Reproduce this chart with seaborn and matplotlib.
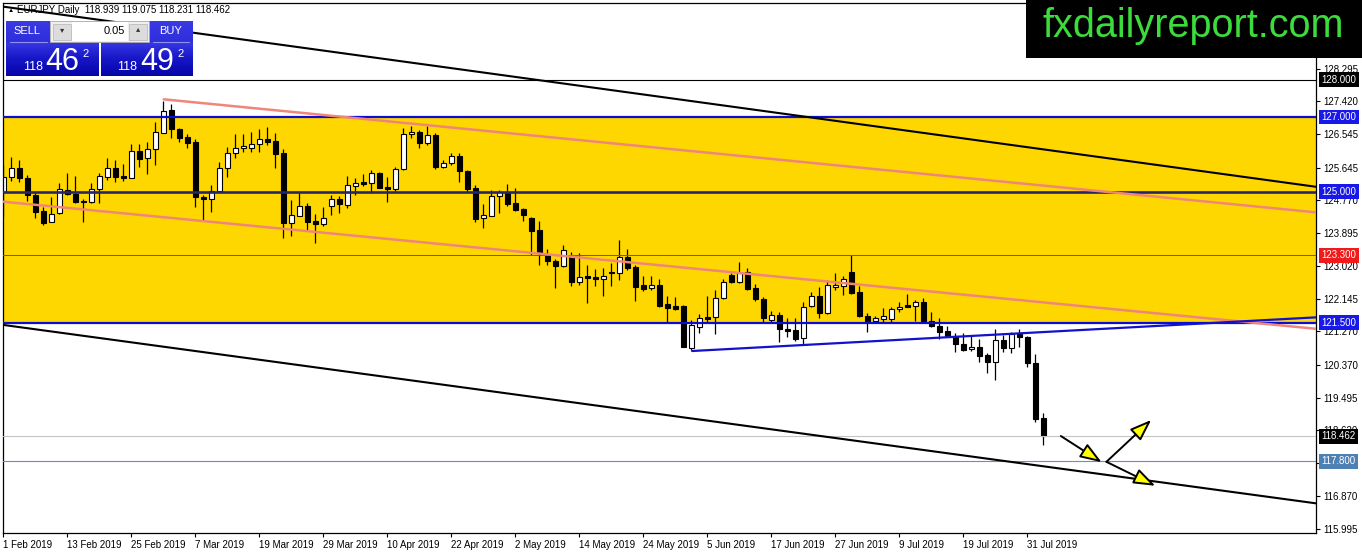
import numpy as np
import pandas as pd
import seaborn as sns
import matplotlib.pyplot as plt
import matplotlib.transforms as mtransforms
from matplotlib.patches import Rectangle
from matplotlib.colors import LinearSegmentedColormap

# EURJPY daily candles, 1 Feb 2019 - 2 Aug 2019 (weekdays)
opens = [124.99, 125.39, 125.64, 125.38, 124.91, 124.49, 124.20, 124.43, 125.06, 124.94,
         124.75, 124.74, 125.07, 125.40, 125.63, 125.42, 125.38, 126.09, 125.90, 126.14,
         126.58, 127.19, 126.67, 126.47, 126.32, 124.85, 124.80, 125.02, 125.63, 126.03,
         126.16, 126.16, 126.27, 126.40, 126.36, 126.05, 124.17, 124.36, 124.62, 124.22,
         124.14, 124.63, 124.81, 124.65, 125.16, 125.25, 125.24, 125.49, 125.14, 125.08,
         125.60, 126.54, 126.59, 126.30, 126.52, 125.67, 125.76, 125.96, 125.56, 125.09,
         124.29, 124.36, 124.90, 125.00, 124.69, 124.53, 124.31, 123.98, 123.31, 123.15,
         123.02, 123.26, 122.60, 122.75, 122.72, 122.67, 122.86, 122.82, 123.26, 122.98,
         122.51, 122.43, 122.50, 122.00, 121.95, 121.95, 120.82, 121.39, 121.66, 121.64,
         122.15, 122.78, 122.60, 122.85, 122.44, 122.13, 121.57, 121.71, 121.32, 121.30,
         121.08, 121.95, 122.22, 121.75, 122.46, 122.49, 122.85, 122.31, 121.68, 121.54,
         121.61, 121.61, 121.86, 121.96, 121.95, 122.05, 121.55, 121.41, 121.28, 121.14,
         120.93, 120.79, 120.84, 120.64, 120.44, 121.04, 120.82, 121.19, 121.11, 120.41,
         118.939]
highs = [125.72, 125.94, 125.85, 125.45, 125.00, 124.60, 124.87, 125.23, 125.49, 125.42,
         124.80, 125.23, 125.49, 125.90, 125.85, 125.74, 126.27, 126.27, 126.34, 126.87,
         127.43, 127.34, 126.71, 126.54, 126.40, 124.91, 125.18, 125.80, 126.21, 126.54,
         126.54, 126.61, 126.67, 126.74, 126.56, 126.14, 124.78, 124.98, 124.69, 124.41,
         124.59, 124.91, 124.89, 125.42, 125.36, 125.47, 125.58, 125.54, 125.40, 125.67,
         126.71, 126.76, 126.65, 126.76, 126.56, 125.85, 126.03, 126.03, 125.58, 125.18,
         124.67, 125.05, 125.05, 125.20, 125.09, 124.57, 124.32, 124.22, 123.46, 123.20,
         123.58, 123.40, 123.36, 123.04, 122.94, 122.95, 123.10, 123.71, 123.46, 123.04,
         122.76, 122.76, 122.66, 122.21, 122.19, 121.97, 121.57, 121.73, 122.21, 122.37,
         122.66, 122.82, 123.13, 122.95, 122.53, 122.19, 121.81, 121.79, 121.62, 121.62,
         122.06, 122.33, 122.45, 122.64, 122.84, 122.75, 123.30, 122.49, 121.75, 121.68,
         121.88, 121.93, 122.06, 122.27, 122.11, 122.17, 121.79, 121.63, 121.41, 121.22,
         121.22, 121.14, 121.06, 120.68, 121.32, 121.17, 121.26, 121.32, 121.14, 120.65,
         119.075]
lows = [124.33, 125.29, 125.25, 124.75, 124.31, 124.11, 124.18, 124.40, 124.92, 124.69,
        124.18, 124.69, 124.71, 125.32, 125.27, 125.30, 125.36, 125.67, 125.47, 125.72,
        126.56, 126.43, 126.32, 126.16, 124.60, 124.25, 124.45, 125.00, 125.40, 125.90,
        126.07, 126.06, 126.06, 126.24, 125.64, 123.77, 123.83, 124.34, 123.98, 123.62,
        124.09, 124.38, 124.44, 124.57, 124.91, 125.16, 124.96, 125.09, 124.74, 125.02,
        125.57, 126.45, 126.16, 126.25, 125.61, 125.64, 125.72, 125.27, 125.00, 124.18,
        124.04, 124.34, 124.43, 124.63, 124.49, 124.22, 123.31, 123.04, 123.04, 122.44,
        122.98, 122.48, 122.51, 122.03, 122.48, 122.21, 122.48, 122.64, 122.91, 122.09,
        122.35, 122.37, 121.93, 121.53, 121.84, 120.84, 120.77, 121.23, 121.53, 121.20,
        122.13, 122.57, 122.57, 122.37, 122.09, 121.53, 121.53, 120.99, 121.11, 121.02,
        120.92, 121.91, 121.62, 121.72, 122.37, 122.24, 122.28, 121.66, 121.26, 121.50,
        121.50, 121.48, 121.79, 121.91, 121.55, 121.50, 121.38, 121.06, 121.11, 120.72,
        120.75, 120.75, 120.44, 120.15, 119.97, 120.72, 120.68, 120.84, 120.32, 118.85,
        118.231]
closes = [125.40, 125.64, 125.36, 124.91, 124.47, 124.17, 124.41, 125.07, 124.93, 124.74,
          124.72, 125.07, 125.42, 125.63, 125.40, 125.36, 126.09, 125.88, 126.14, 126.59,
          127.16, 126.67, 126.45, 126.31, 124.85, 124.80, 125.03, 125.63, 126.03, 126.16,
          126.22, 126.27, 126.40, 126.34, 126.01, 124.16, 124.38, 124.62, 124.18, 124.15,
          124.29, 124.80, 124.67, 125.18, 125.23, 125.21, 125.49, 125.11, 125.08, 125.61,
          126.54, 126.59, 126.30, 126.52, 125.67, 125.76, 125.96, 125.56, 125.07, 124.27,
          124.38, 124.89, 124.99, 124.67, 124.51, 124.38, 123.96, 123.37, 123.15, 123.02,
          123.44, 122.60, 122.73, 122.70, 122.67, 122.75, 122.82, 123.25, 122.95, 122.45,
          122.39, 122.51, 121.95, 121.90, 121.87, 120.86, 121.44, 121.62, 121.61, 122.15,
          122.58, 122.60, 122.82, 122.40, 122.13, 121.62, 121.71, 121.32, 121.29, 121.06,
          121.93, 122.22, 121.75, 122.51, 122.51, 122.66, 122.30, 121.68, 121.53, 121.62,
          121.69, 121.86, 121.93, 121.93, 122.05, 121.55, 121.41, 121.26, 121.14, 120.92,
          120.77, 120.84, 120.62, 120.44, 121.04, 120.83, 121.19, 121.11, 120.41, 118.93,
          118.462]

date_labels = ['1 Feb 2019', '13 Feb 2019', '25 Feb 2019', '7 Mar 2019', '19 Mar 2019',
               '29 Mar 2019', '10 Apr 2019', '22 Apr 2019', '2 May 2019', '14 May 2019',
               '24 May 2019', '5 Jun 2019', '17 Jun 2019', '27 Jun 2019', '9 Jul 2019',
               '19 Jul 2019', '31 Jul 2019']
price_ticks = [128.295, 127.420, 126.545, 125.645, 124.770, 123.895, 123.020, 122.145,
               121.270, 120.370, 119.495, 118.620, 117.745, 116.870, 115.995]
# 117.745 sits fully under the 117.800 box on the original scale
hidden_ticks = [117.745]

# horizontal levels drawn on the chart
levels = [128.000, 127.000, 125.000, 123.300, 121.500, 118.462, 117.800]
level_line_colors = ['black', '#0C0CD2', '#262668', '#F02020', '#0C0CD2', '#C4C4C4', '#6A8FBF']
level_line_widths = [0.8, 1.6, 1.9, 0.6, 1.6, 0.8, 0.8]
level_box_colors = ['black', '#1818E8', '#1818E8', '#F01A1A', '#1818E8', 'black', '#4E80B4']
zone_low, zone_high = 121.5, 127.0

# trend lines: (start bar, start price, end bar, end price)
channel_upper = (0, 129.95, 164.1, 125.134)
channel_lower = (0, 121.44, 164.1, 116.67)
pink_upper = (20.04, 127.473, 164.1, 124.45)
pink_lower = (0, 124.735, 164.1, 121.337)
support_line = (86.1, 120.743, 164.1, 121.643)

# scenario arrows: (from bar, from price, to bar, to price)
arrows = [(132.2, 118.47, 137.3, 117.77),
          (137.9, 117.78, 143.5, 118.90),
          (137.9, 117.78, 144.0, 117.14)]

df = pd.DataFrame({'open': opens, 'high': highs, 'low': lows, 'close': closes})
df['bar'] = np.arange(len(df))
df['up'] = df['close'] >= df['open']

sns.set_theme(style='white')
plt.rcParams['font.family'] = ['Liberation Sans', 'DejaVu Sans']

fig = plt.figure(figsize=(13.62, 5.54), dpi=100)
ax = fig.add_axes([3 / 1362, 1 - 533 / 554, 1313 / 1362, 530.3 / 554])
ax.set_facecolor('white')

# yellow zone
ax.axhspan(zone_low, zone_high, color='#FFD700', zorder=0.5, lw=0)

# candles
ax.vlines(df['bar'], df['low'], df['high'], color='black', lw=0.9, zorder=2)
body_lo = df[['open', 'close']].min(axis=1)
body_h = (df['close'] - df['open']).abs().clip(lower=0.015)
ax.bar(df['bar'], body_h, bottom=body_lo, width=0.66,
       color=np.where(df['up'], 'white', 'black'), edgecolor='black', lw=0.8, zorder=2.2)

# horizontal levels
for lv, c, w in zip(levels, level_line_colors, level_line_widths):
    ax.axhline(lv, color=c, lw=w, zorder=3, antialiased=(lv != 123.3))

# trend lines
for seg, c, w in [(channel_upper, 'black', 1.5), (channel_lower, 'black', 1.5),
                  (pink_upper, '#F0857A', 1.8), (pink_lower, '#F0857A', 1.8),
                  (support_line, '#1212CC', 1.6)]:
    sns.lineplot(x=[seg[0], seg[2]], y=[seg[1], seg[3]], color=c, lw=w, ax=ax,
                 zorder=4, legend=False)

for a in arrows:
    ax.annotate('', xy=(a[2], a[3]), xytext=(a[0], a[1]),
                arrowprops=dict(arrowstyle='-|>,head_length=1.1,head_width=0.4',
                                lw=1.4, ec='black', fc='#FFFF00', shrinkA=0, shrinkB=0),
                zorder=5)

ax.set_xlim(-0.05, 164.1)
ax.set_ylim(115.877, 130.056)

# axes styling
for s in ax.spines.values():
    s.set_color('black')
    s.set_linewidth(0.9)
ax.yaxis.tick_right()
ax.set_yticks(price_ticks)
ax.set_yticklabels(['' if v in hidden_ticks else f'{v:.3f}' for v in price_ticks])
ax.set_xticks(np.arange(0, 8 * len(date_labels), 8))
ax.set_xticklabels(date_labels, ha='left')
ax.tick_params(axis='y', direction='out', length=3, width=0.8, pad=2,
               labelsize=7, colors='black', right=True, left=False)
ax.tick_params(axis='x', direction='out', length=3, width=0.8, pad=2,
               labelsize=7, colors='black', bottom=True)
ax.set_xlabel('')
ax.set_ylabel('')
ax.grid(False)

# price boxes on the right scale
trans = mtransforms.blended_transform_factory(ax.transAxes, ax.transData)
for lv, c in zip(levels, level_box_colors):
    ax.text(1.0043, lv, f'{lv:.3f}', transform=trans, ha='left', va='center',
            fontsize=7, color='white', zorder=6,
            bbox=dict(boxstyle='square,pad=0.25', fc=c, ec='none'))

# overlay in pixel coordinates for the header, trade panel and logo
ov = fig.add_axes([0, 0, 1, 1], zorder=10)
ov.patch.set_visible(False)
ov.axis('off')

ov.text(8, 10, '\u25b2', fontsize=4.5, va='center', ha='left', color='black')
ov.text(17, 10, 'EURJPY Daily  118.939 119.075 118.231 118.462', fontsize=7,
        va='center', ha='left', color='black')

blue = LinearSegmentedColormap.from_list('panel', ['#3A3AE4', '#1616C8', '#0606A6'])
grad = np.linspace(0, 1, 60).reshape(-1, 1)
for x0, x1 in [(6, 99), (101, 193)]:
    ov.imshow(grad, extent=(x0, x1, 76, 41.7), cmap=blue, aspect='auto', zorder=1)
for x0, x1 in [(6, 50), (149, 193)]:
    ov.imshow(grad[:20] * 0.5, extent=(x0, x1, 41.7, 20.7), cmap=blue, aspect='auto',
              zorder=1, vmin=0, vmax=1)
ov.plot([10, 47], [42, 42], color='#9090F0', lw=0.8, zorder=2)
ov.plot([153, 189], [42, 42], color='#9090F0', lw=0.8, zorder=2)
ov.add_patch(Rectangle((50, 20.7), 99, 21, fc='#EFEFEF', ec='#A8A8A8', lw=0.6, zorder=2))
ov.add_patch(Rectangle((72, 22), 56, 18.5, fc='white', ec='none', zorder=3))
ov.add_patch(Rectangle((53, 23.5), 18, 16, fc='#DCDCDC', ec='#B4B4B4', lw=0.5, zorder=3))
ov.add_patch(Rectangle((129, 23.5), 18, 16, fc='#DCDCDC', ec='#B4B4B4', lw=0.5, zorder=3))
ov.text(62, 31, '\u25be', fontsize=6, ha='center', va='center', color='#333333', zorder=4)
ov.text(138, 30, '\u25b4', fontsize=6, ha='center', va='center', color='#333333', zorder=4)
ov.text(125, 31, '0.05', fontsize=8, ha='right', va='center', color='black', zorder=4)
ov.text(27, 31, 'SELL', fontsize=8, ha='center', va='center', color='white', zorder=4)
ov.text(171, 31, 'BUY', fontsize=8, ha='center', va='center', color='white', zorder=4)
for x_small, x_big, x_sup, big in [(23, 62, 82, '46'), (117, 157, 177, '49')]:
    ov.text(x_small, 70, '118', fontsize=9, ha='left', va='baseline', color='white', zorder=4)
    ov.text(x_big, 70, big, fontsize=22, ha='center', va='baseline', color='white', zorder=4)
    ov.text(x_sup, 57, '2', fontsize=8, ha='left', va='baseline', color='white', zorder=4)

ov.add_patch(Rectangle((1026, 0), 336, 58, fc='black', ec='none', zorder=2))
ov.text(1193, 37, 'fxdailyreport.com', fontsize=28.5, ha='center', va='baseline',
        color='#3CDC3C', zorder=3)

ov.set_xlim(0, 1362)
ov.set_ylim(554, 0)

fig.savefig('out.png', dpi=100)
